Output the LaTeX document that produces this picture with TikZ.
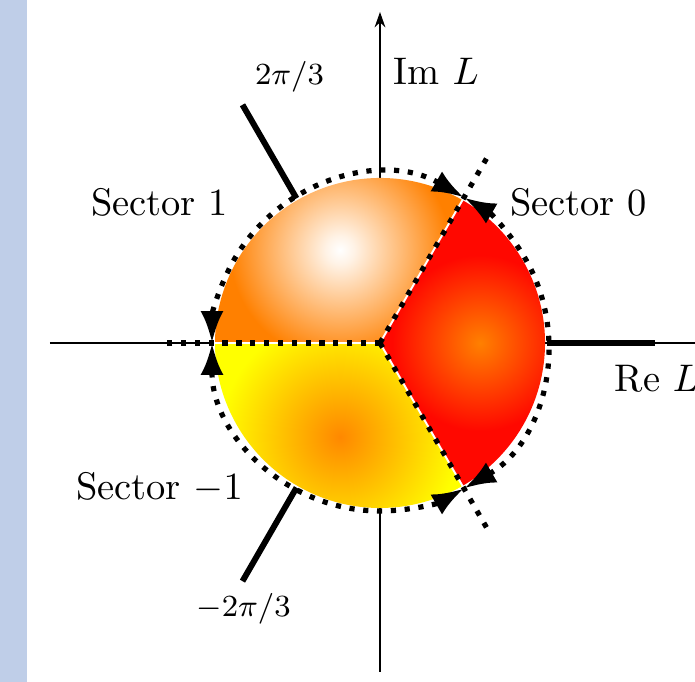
\documentclass[tikz,border=0pt]{standalone}
\usetikzlibrary{arrows.meta}
\definecolor{stripblue}{RGB}{191,206,232}
\definecolor{myorange}{RGB}{255,128,0}
\definecolor{myorangeb}{RGB}{255,136,0}
\definecolor{myred}{RGB}{255,8,0}
\definecolor{myyellow}{RGB}{255,255,0}
\pgfdeclareradialshading{shadeone}{\pgfpoint{0bp}{0bp}}{color(0bp)=(white); color(1.5bp)=(white!90!myorange); color(11.5bp)=(myorange); color(50bp)=(myorange)}
\pgfdeclareradialshading{shadetwo}{\pgfpoint{0bp}{0bp}}{color(0bp)=(myorangeb); color(12bp)=(myyellow); color(50bp)=(myyellow)}
\pgfdeclareradialshading{shadezero}{\pgfpoint{0bp}{0bp}}{color(0bp)=(myorange); color(11bp)=(myred); color(50bp)=(myred)}
\begin{document}
\begin{tikzpicture}[x=0.26pt,y=0.26pt,
  axis/.style={line width=0.4pt},
  branch/.style={line width=1.55pt},
  dotline/.style={line width=1.35pt,dash pattern=on 1.35pt off 2.25pt},
  tipboth/.style={{Latex[length=8.3pt,width=6pt]}-{Latex[length=8.3pt,width=6pt]}},
  sep/.style={white,line width=0.5pt},
  lab/.style={inner sep=0pt,anchor=base},
  small/.style={inner sep=0pt,anchor=base,font=\footnotesize}]
\useasboundingbox (-380,-339) rectangle (315,343);
\fill[stripblue] (-380,-339) rectangle (-353,343);
% axes
\coordinate (O) at (0,0);
\coordinate (ReL) at (-330,0);
\coordinate (ReR) at (340,0);
\coordinate (ImB) at (0,-329);
\coordinate (ImT) at (0,331);
\draw[axis] (ReL) -- (ReR);
\draw[axis,-{Stealth[length=4pt,width=2.8pt]}] (ImB) -- (ImT);
% sector fills
\begin{scope}
  \clip (O) -- (60:165) arc[start angle=60,end angle=180,radius=165] -- cycle;
  \shade[shading=shadeone] (-40,93) circle (240);
\end{scope}
\begin{scope}
  \clip (O) -- (180:165) arc[start angle=180,end angle=300,radius=165] -- cycle;
  \shade[shading=shadetwo] (-40,-94) circle (250);
\end{scope}
\begin{scope}
  \clip (O) -- (-60:165) arc[start angle=-60,end angle=60,radius=165] -- cycle;
  \shade[shading=shadezero] (100,0) circle (200);
\end{scope}
\coordinate (V0) at (60:166);
\coordinate (V1) at (180:166);
\coordinate (V2) at (-60:166);
\draw[sep] (O) -- (V0);
\draw[sep] (O) -- (V1);
\draw[sep] (O) -- (V2);
% branch cuts
\coordinate (B0a) at (0:167);   \coordinate (B0b) at (0:275);
\coordinate (B1a) at (120:167); \coordinate (B1b) at (120:275);
\coordinate (B2a) at (-120:167);\coordinate (B2b) at (-120:275);
\draw[branch] (B0a) -- (B0b);
\draw[branch] (B1a) -- (B1b);
\draw[branch] (B2a) -- (B2b);
% dotted rays
\coordinate (R0) at (60:216);
\coordinate (R1) at (180:217);
\coordinate (R2) at (-60:216);
\draw[dotline] (O) -- (R0);
\draw[dotline] (O) -- (R1);
\draw[dotline] (O) -- (R2);
% dotted arcs with arrows
\draw[dotline,tipboth] (60:168) arc[start angle=60,end angle=180,radius=168];
\draw[dotline,tipboth] (180:168) arc[start angle=180,end angle=300,radius=168];
\draw[dotline,tipboth] (-60:168) arc[start angle=-60,end angle=60,radius=168];
% labels
\node[lab,anchor=base west] (imlab) at (13,258) {Im $L$};
\node[lab,anchor=base west] (relab) at (234,-49) {Re $L$};
\node[small] (p1) at (-90.5,258) {$2\pi/3$};
\node[small] (p2) at (-136.5,-274) {$-2\pi/3$};
\node[lab] (s1) at (-220.5,127) {Sector 1};
\node[lab] (s0) at (198.5,127) {Sector 0};
\node[lab] (sm1) at (-220.5,-157) {Sector $-1$};
\end{tikzpicture}
\end{document}
